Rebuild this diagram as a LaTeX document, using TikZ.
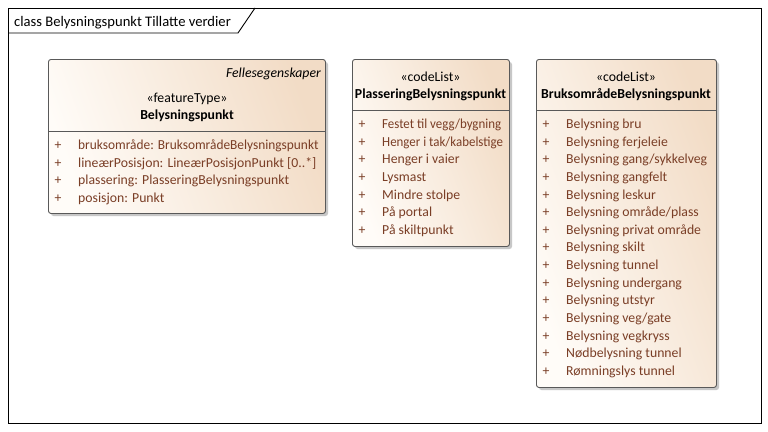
\documentclass[tikz,border=0pt]{standalone}
\usepackage{fontspec}
\usepackage{graphicx}
\setmainfont{Carlito}
\definecolor{itemc}{HTML}{7A3E26}
\definecolor{fillA}{HTML}{FFFCF8}
\definecolor{fillB}{HTML}{F2DCC6}
\definecolor{edgec}{HTML}{595959}
\begin{document}
\begin{tikzpicture}[x=1pt,y=-1pt,
  umlbox/.style={draw=edgec, line width=0.9pt, rounded corners=2.5pt,
    left color=fillA, right color=fillB, shading angle=110,
    anchor=north west, inner sep=0pt},
  shadowbox/.style={fill=black!22, rounded corners=2.5pt, draw=none},
  txt/.style={font=\fontsize{13.75}{15}\selectfont, inner sep=0pt, anchor=base},
  item/.style={txt, anchor=base west, text=itemc},
  plus/.style={txt, anchor=base, text=itemc},
  divline/.style={draw=edgec, line width=0.7pt}]
\useasboundingbox (0,0) rectangle (768,431);
\fill[white] (0,0) rectangle (768,431);
% frame
\draw[line width=0.9pt] (8,8) rectangle (761,423);
\draw[line width=0.9pt] (8,33) -- (238,33) -- (255,8);
\node[txt, anchor=base west, font=\fontsize{14.6}{16}\selectfont] (title) at (14,26) {class Belysningspunkt Tillatte verdier};

% ---------- box 1 ----------
\fill[shadowbox] (51,62) rectangle (328,216);
\node[umlbox, minimum width=277pt, minimum height=154pt] (b1) at (48,59) {};
\draw[divline] (48,131) -- (325,131);
\node[txt, anchor=base east, font=\fontsize{13.75}{15}\selectfont\itshape] (b1tag) at (321,77) {Fellesegenskaper};
\node[txt] (b1st) at (187,102) {«featureType»};
\node[txt, font=\fontsize{13.75}{15}\selectfont\bfseries] (b1name) at (187,119) {Belysningspunkt};
\foreach \t [count=\i from 0] in {{\scalebox{0.972}[1]{bruksområde: BruksområdeBelysningspunkt}},lineærPosisjon: LineærPosisjonPunkt [0..*],plassering: PlasseringBelysningspunkt,posisjon: Punkt}{
  \node[plus] (b1p\i) at (58,149.5+17.7*\i) {+};
  \node[item] (b1a\i) at (78,149.5+17.7*\i) {\t};
}

% ---------- box 2 ----------
\fill[shadowbox] (355,62) rectangle (512,249);
\node[umlbox, minimum width=157pt, minimum height=187pt] (b2) at (352,59) {};
\draw[divline] (352,110) -- (509,110);
\node[txt] (b2st) at (430.5,81) {«codeList»};
\node[txt, font=\fontsize{13.75}{15}\selectfont\bfseries] (b2name) at (430.5,98.5) {PlasseringBelysningspunkt};
\foreach \t [count=\i from 0] in {{\scalebox{0.94}[1]{Festet til vegg/bygning}},{\scalebox{0.94}[1]{Henger i tak/kabelstige}},Henger i vaier,Lysmast,Mindre stolpe,På portal,På skiltpunkt}{
  \node[plus] (b2p\i) at (362,128.5+17.64*\i) {+};
  \node[item] (b2a\i) at (382,128.5+17.64*\i) {\t};
}

% ---------- box 3 ----------
\fill[shadowbox] (539,62) rectangle (719,390);
\node[umlbox, minimum width=180pt, minimum height=328pt] (b3) at (536,59) {};
\draw[divline] (536,110) -- (716,110);
\node[txt] (b3st) at (626,81) {«codeList»};
\node[txt, font=\fontsize{13.75}{15}\selectfont\bfseries] (b3name) at (626,98.5) {BruksområdeBelysningspunkt};
\foreach \t [count=\i from 0] in {Belysning bru,Belysning ferjeleie,Belysning gang/sykkelveg,Belysning gangfelt,Belysning leskur,Belysning område/plass,Belysning privat område,Belysning skilt,Belysning tunnel,Belysning undergang,Belysning utstyr,Belysning veg/gate,Belysning vegkryss,Nødbelysning tunnel,Rømningslys tunnel}{
  \node[plus] (b3p\i) at (546,128.5+17.64*\i) {+};
  \node[item] (b3a\i) at (566,128.5+17.64*\i) {\t};
}
\end{tikzpicture}
\end{document}
